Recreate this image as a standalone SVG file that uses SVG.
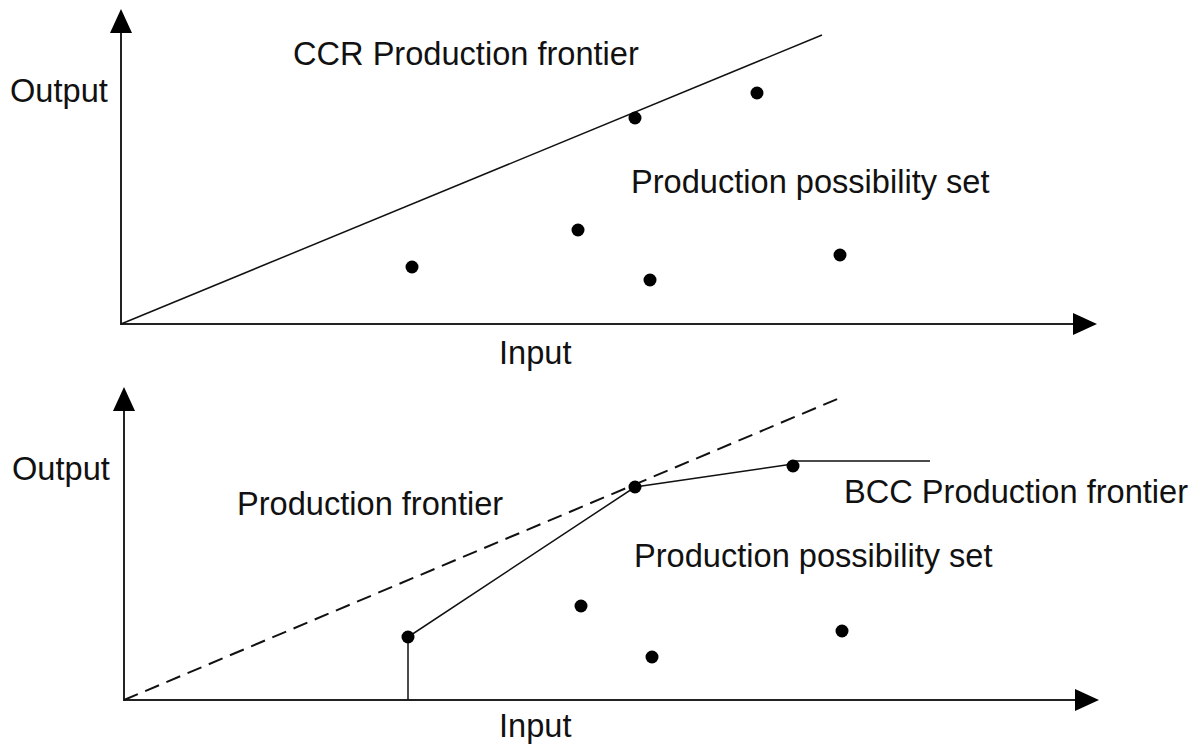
<svg xmlns="http://www.w3.org/2000/svg" width="1196" height="747" viewBox="0 0 1196 747">
<style>
.axis{stroke:#222;stroke-width:2;fill:none}
.line{stroke:#111;stroke-width:1.5;fill:none}
.dash{stroke:#111;stroke-width:2;fill:none;stroke-dasharray:15 8}
.dot{fill:#000}
text{font-family:"Liberation Sans",Arial,sans-serif;font-size:32.6px;fill:#111}
</style>
<defs>
<marker id="arr" viewBox="0 0 24 22" refX="0" refY="11" markerWidth="24" markerHeight="22" markerUnits="userSpaceOnUse" orient="auto">
<path d="M0,0 L24,11 L0,22 Z" fill="#000"/>
</marker>
</defs>
<rect width="1196" height="747" fill="#fff"/>
<g id="connectors">
<path class="axis" d="M121,325 V33" marker-end="url(#arr)"/>
<path class="axis" d="M120,324 H1073" marker-end="url(#arr)"/>
<path class="line" d="M121,324 L822,35"/>
<path class="axis" d="M124,701 V411" marker-end="url(#arr)"/>
<path class="axis" d="M123,700 H1075" marker-end="url(#arr)"/>
<path class="dash" d="M124,700 L842,397"/>
<path class="line" d="M408,700 V637 L635,487 L793,464 M793,461 H930"/>
</g>
<g id="top-labels">
<text x="293" y="65">CCR Production frontier</text>
<text x="10" y="102">Output</text>
<text x="631" y="193">Production possibility set</text>
<text x="499" y="364">Input</text>
</g>
<g id="top-dots">
<circle class="dot" cx="635" cy="118" r="6.5"/>
<circle class="dot" cx="757" cy="93" r="6.5"/>
<circle class="dot" cx="578" cy="230" r="6.5"/>
<circle class="dot" cx="412" cy="267" r="6.5"/>
<circle class="dot" cx="650" cy="280" r="6.5"/>
<circle class="dot" cx="840" cy="255" r="6.5"/>
</g>
<g id="bottom-labels">
<text x="12" y="480">Output</text>
<text x="237" y="515">Production frontier</text>
<text x="844" y="503">BCC Production frontier</text>
<text x="634" y="567">Production possibility set</text>
<text x="499" y="737">Input</text>
</g>
<g id="bottom-dots">
<circle class="dot" cx="408" cy="637" r="6.5"/>
<circle class="dot" cx="635" cy="487" r="6.5"/>
<circle class="dot" cx="793" cy="466" r="6.5"/>
<circle class="dot" cx="581" cy="606" r="6.5"/>
<circle class="dot" cx="652" cy="657" r="6.5"/>
<circle class="dot" cx="842" cy="631" r="6.5"/>
</g>
</svg>
